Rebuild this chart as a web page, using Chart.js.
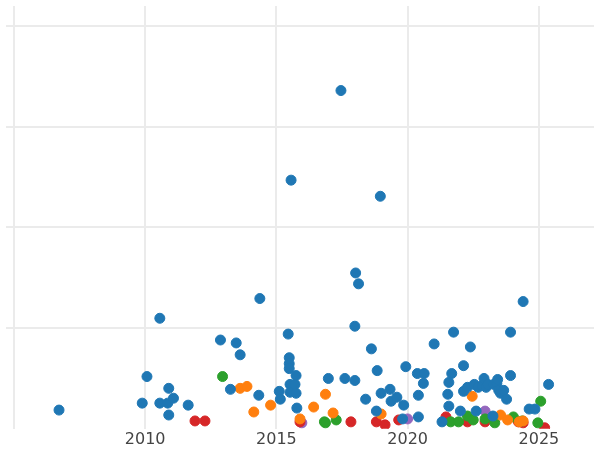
<!DOCTYPE html>
<html>
<head>
<script src="https://cdn.jsdelivr.net/npm/chart.js@4"></script>
<style>
  body { margin: 0; background: #fff; }
  #wrap { width: 600px; height: 450px; }
</style>
</head>
<body>
<div id="wrap"><canvas id="c"></canvas></div>
<script>
const blueX = [2006.72,2009.89,2010.07,2010.56,2010.56,2010.90,2010.86,2010.90,2011.08,2011.64,2012.87,2013.25,2013.47,2013.62,2014.33,2014.37,2015.11,2015.15,2015.45,2015.49,2015.49,2015.49,2015.52,2015.52,2015.56,2015.71,2015.75,2015.75,2015.78,2016.98,2017.46,2017.61,2017.99,2017.99,2018.02,2018.13,2018.40,2018.62,2018.81,2018.84,2018.96,2018.99,2019.33,2019.37,2019.59,2019.85,2019.93,2020.37,2020.41,2020.41,2020.60,2020.63,2021.01,2021.31,2021.53,2021.57,2021.57,2021.68,2021.75,2022.01,2022.13,2022.13,2022.28,2022.39,2022.54,2022.61,2022.69,2022.84,2022.91,2022.99,2023.06,2023.25,2023.28,2023.40,2023.43,2023.47,2023.54,2023.66,2023.77,2023.92,2023.92,2024.40,2024.63,2024.85,2025.37,2019.81];
const blueY = [18.6,25.5,51.9,109.8,25.5,40.2,25.5,13.7,30.4,23.5,88.2,39.2,85.3,73.5,33.3,129.4,37.2,29.4,94.1,70.6,64.7,59.8,44.1,36.3,247,44.1,52.9,35.3,20.6,50,336,50,48,101.9,154.8,144,29.4,79.4,17.6,57.8,231,35.3,39.2,27.4,31.4,23.5,61.7,54.9,33.3,11.8,45.1,54.9,84.3,6.9,34.3,46.1,22.5,54.9,96,17.6,62.7,37.2,41.2,81.3,44.1,17.6,41.2,43.1,50,41.2,44.1,12.7,44.1,45.1,49,38.2,35.3,38.2,29.4,96,52.9,126.4,19.6,19.6,44.1,9.8];

const orangeX = [2013.62,2013.88,2014.14,2014.78,2015.90,2016.42,2016.87,2017.16,2018.99,2022.46,2023.54,2023.81,2024.25,2024.40];
const orangeY = [40.2,42.1,16.7,23.5,9.8,21.6,34.3,15.7,14.7,32.3,13.7,8.8,6.9,7.8];

const greenX = [2012.95,2016.83,2016.87,2017.28,2021.64,2021.94,2022.28,2022.50,2022.95,2023.32,2024.03,2024.37,2024.96,2025.07];
const greenY = [51.9,6.9,5.9,8.8,6.9,6.9,12.7,8.8,9.8,5.9,11.8,7.8,5.9,27.4];

const redX = [2011.90,2012.28,2015.90,2017.84,2018.81,2019.14,2019.66,2021.46,2022.28,2022.95,2024.22,2024.40,2025.22];
const redY = [7.8,7.8,6.9,6.9,6.9,3.9,8.8,11.8,6.9,6.9,6.9,5.9,1];

const purpleX = [2015.97,2020.0,2022.95];
const purpleY = [5.9,9.8,17.6];

// 2005 gridline is drawn but its label is cut off in the original
const xTicks = [2005, 2010, 2015, 2020, 2025];
const xLabels = ["", "2010", "2015", "2020", "2025"];

function pts(xs, ys) {
  return xs.map((x, i) => ({ x: x, y: ys[i] }));
}

function series(xs, ys, color) {
  return {
    data: pts(xs, ys),
    backgroundColor: color,
    borderColor: color,
    pointRadius: 5,
    pointHoverRadius: 5
  };
}

new Chart(document.getElementById("c"), {
  type: "scatter",
  data: {
    datasets: [
      series(blueX, blueY, "#1f77b4"),
      series(orangeX, orangeY, "#ff7f0e"),
      series(greenX, greenY, "#2ca02c"),
      series(redX, redY, "#d62728"),
      series(purpleX, purpleY, "#9467bd")
    ]
  },
  options: {
    responsive: true,
    maintainAspectRatio: false,
    animation: false,
    layout: { padding: 0 },
    plugins: { legend: { display: false }, tooltip: { enabled: false } },
    scales: {
      x: {
        type: "linear",
        min: 2004.7,
        max: 2027.1,
        afterBuildTicks: axis => { axis.ticks = xTicks.map(v => ({ value: v })); },
        grid: { color: "#ebebeb", lineWidth: 2, drawTicks: false },
        border: { display: false },
        ticks: {
          color: "#444",
          font: { family: "DejaVu Sans", size: 16 },
          padding: 1,
          maxRotation: 0,
          callback: (v, i) => xLabels[i]
        }
      },
      y: {
        min: 0,
        max: 420,
        afterBuildTicks: axis => { axis.ticks = [100, 200, 300, 400].map(v => ({ value: v })); },
        grid: { color: "#ebebeb", lineWidth: 2, drawTicks: false },
        border: { display: false },
        ticks: { display: false }
      }
    }
  }
});
</script>
</body>
</html>
